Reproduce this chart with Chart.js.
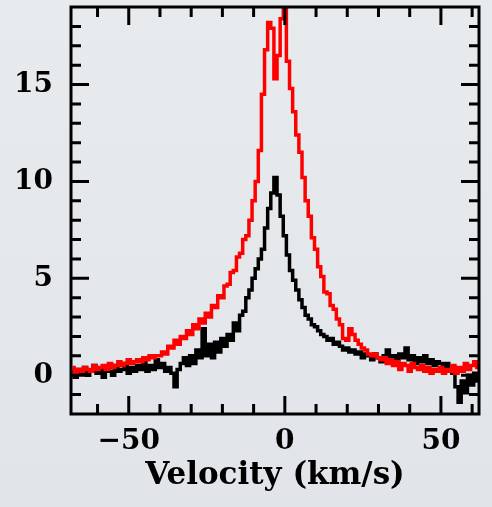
<!DOCTYPE html>
<html>
<head>
<meta charset="utf-8">
<script src="https://cdn.jsdelivr.net/npm/chart.js@4.4.1/dist/chart.umd.min.js"></script>
<style>
  html, body { margin: 0; padding: 0; }
  body { width: 492px; height: 507px; background: linear-gradient(#e8ebee, #e1e4e8); }
  #wrap { width: 492px; height: 507px; }
</style>
</head>
<body>
<div id="wrap"><canvas id="spec"></canvas></div>
<script>
// velocity grid (km/s), one channel per km/s
const velocity = [];
for (let v = -68; v <= 62; v++) velocity.push(v);

// black spectrum
const blackFlux = [
  0.2, -0.1, 0.3, 0.1, 0.4, 0.0, 0.2, 0.5, 0.1, 0.3,
  -0.1, 0.4, 0.2, 0.0, 0.5, 0.2, 0.3, 0.6, 0.1, 0.4,
  0.2, 0.5, 0.3, 0.7, 0.2, 0.5, 0.3, 0.8, 0.4, 0.6,
  0.2, 0.4, 0.1, -0.6, 0.3, 0.6, 0.9, 0.5, 1.0, 0.6,
  1.3, 0.9, 2.4, 1.0, 1.6, 0.9, 1.7, 1.2, 1.9, 1.5,
  2.1, 1.8, 2.7, 2.3, 3.1, 3.3, 4.0, 4.4, 5.0, 5.5,
  6.0, 6.5, 7.6, 8.6, 9.4, 10.2, 9.3, 8.2, 7.2, 6.2,
  5.4, 4.9, 4.4, 3.9, 3.5, 3.1, 2.9, 2.6, 2.5, 2.3,
  2.1, 2.0, 1.8, 1.9, 1.6, 1.7, 1.5, 1.3, 1.4, 1.2,
  1.3, 1.1, 1.2, 0.9, 1.1, 1.0, 0.8, 1.1, 0.9, 0.7,
  1.0, 1.3, 0.8, 1.0, 0.7, 1.1, 0.9, 1.4, 0.8, 1.0,
  0.6, 0.9, 0.7, 1.0, 0.6, 0.8, 0.5, 0.7, 0.6, 0.4,
  0.6, 0.3, 0.1, -0.6, -1.4, -0.3, -0.9, 0.0, -0.5, 0.1,
  -0.3
];

// red spectrum
const redFlux = [
  0.4, 0.1, 0.3, 0.2, 0.4, 0.3, 0.2, 0.5, 0.3, 0.4,
  0.5, 0.3, 0.6, 0.4, 0.5, 0.7, 0.5, 0.6, 0.8, 0.6,
  0.7, 0.8, 0.7, 0.9, 0.8, 1.0, 0.9, 1.0, 1.0, 1.2,
  1.1, 1.5, 1.4, 1.8, 1.6, 2.0, 1.9, 2.3, 2.1, 2.6,
  2.4, 2.9, 2.7, 3.2, 3.0, 3.6, 3.5, 4.1, 4.0, 4.6,
  4.7, 5.3, 5.4, 6.1, 6.3, 7.0, 7.2, 8.0, 9.0, 10.0,
  11.6, 14.5, 16.8, 18.2, 17.9, 15.3, 16.5, 18.4, 19.0, 16.2,
  14.8, 13.6, 12.4, 11.5, 10.2, 9.0, 8.2, 7.1, 6.5, 5.6,
  5.1, 4.3, 4.2, 3.6, 3.4, 2.9, 2.6, 1.9, 1.8, 2.4,
  2.1, 1.8, 1.6, 1.4, 1.3, 1.1, 1.0, 1.1, 0.9, 0.8,
  0.9, 0.6, 0.8, 0.5, 0.7, 0.3, 0.6, 0.5, 0.2, 0.6,
  0.4, 0.3, 0.5, 0.2, 0.4, 0.1, 0.3, 0.2, 0.4, 0.1,
  0.3, 0.2, 0.5, 0.1, 0.4, 0.2, 0.6, 0.3, 0.5, 0.7,
  0.4
];

const xLabels = [-50, 0, 50];
const xMinor = [-60, -40, -30, -20, -10, 10, 20, 30, 40, 60];
const yLabels = [0, 5, 10, 15];
const yMinor = [-1, 1, 2, 3, 4, 6, 7, 8, 9, 11, 12, 13, 14, 16, 17, 18];

const pts = arr => arr.map((y, i) => ({ x: velocity[i], y: y }));
const FONT = "'DejaVu Serif', serif";

// box with inward ticks on all four sides
const frame = {
  id: 'frame',
  afterDatasetsDraw(chart) {
    const { ctx, chartArea: a, scales } = chart;
    ctx.save();
    ctx.strokeStyle = '#000';
    ctx.lineWidth = 3;
    ctx.beginPath();
    const tx = (v, len) => {
      const px = scales.x.getPixelForValue(v);
      ctx.moveTo(px, a.bottom); ctx.lineTo(px, a.bottom - len);
      ctx.moveTo(px, a.top); ctx.lineTo(px, a.top + len);
    };
    const ty = (v, len) => {
      const py = scales.y.getPixelForValue(v);
      ctx.moveTo(a.left, py); ctx.lineTo(a.left + len, py);
      ctx.moveTo(a.right, py); ctx.lineTo(a.right - len, py);
    };
    xLabels.forEach(v => tx(v, 18));
    xMinor.forEach(v => tx(v, 10));
    yLabels.forEach(v => ty(v, 18));
    yMinor.forEach(v => ty(v, 10));
    ctx.stroke();
    ctx.strokeRect(a.left, a.top, a.right - a.left, a.bottom - a.top);
    ctx.restore();
  }
};

new Chart(document.getElementById('spec'), {
  type: 'line',
  data: {
    datasets: [
      {
        label: 'red',
        data: pts(redFlux),
        borderColor: '#ff0000',
        borderWidth: 3.5,
        pointRadius: 0,
        stepped: 'middle',
      },
      {
        label: 'black',
        data: pts(blackFlux),
        borderColor: '#000000',
        borderWidth: 3.5,
        pointRadius: 0,
        stepped: 'middle',
      },
    ],
  },
  options: {
    responsive: true,
    maintainAspectRatio: false,
    animation: false,
    layout: { padding: { top: 7, right: 13, left: 0, bottom: 0 } },
    plugins: { legend: { display: false }, tooltip: { enabled: false } },
    scales: {
      x: {
        type: 'linear',
        min: -68.5,
        max: 62.2,
        afterFit: s => { s.height = 93; s.paddingLeft = 0; s.paddingRight = 0; },
        afterBuildTicks: s => { s.ticks = xLabels.map(v => ({ value: v })); },
        grid: { display: false, drawTicks: false },
        border: { display: false },
        ticks: {
          padding: 11,
          color: '#000',
          maxRotation: 0,
          font: { family: FONT, size: 28, weight: 'bold' },
          callback: v => (v < 0 ? '\u2212' + Math.abs(v) : String(v)),
        },
        title: {
          display: true,
          text: 'Velocity (km/s)',
          color: '#000',
          padding: { top: 0, bottom: 12 },
          font: { family: FONT, size: 31, weight: 'bold' },
        },
      },
      y: {
        min: -2,
        max: 19,
        afterFit: s => { s.width = 71; s.paddingTop = 0; s.paddingBottom = 0; },
        afterBuildTicks: s => { s.ticks = yLabels.map(v => ({ value: v })); },
        grid: { display: false, drawTicks: false },
        border: { display: false },
        ticks: {
          padding: 18,
          color: '#000',
          font: { family: FONT, size: 28, weight: 'bold' },
        },
      },
    },
  },
  plugins: [frame],
});
</script>
</body>
</html>
